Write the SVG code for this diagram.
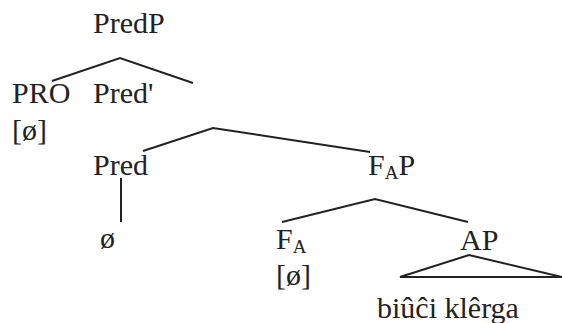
<svg xmlns="http://www.w3.org/2000/svg" width="562" height="323" viewBox="0 0 562 323">
<style>
text{font-family:"Liberation Serif","Times New Roman",serif;font-size:30px;fill:#222}
.sub{font-size:19px}
.e line,.e polyline,.e polygon{stroke:#222;stroke-width:2;fill:none}
</style>
<rect width="562" height="323" fill="#fff"/>
<g id="n-predp"><text x="93" y="33">PredP</text></g>
<g id="n-pro"><text x="12" y="103">PRO</text><text x="12" y="140">[ø]</text></g>
<g id="n-predbar"><text x="93" y="103">Pred'</text></g>
<g id="n-pred"><text x="93" y="175">Pred</text></g>
<g id="n-null"><text x="100" y="248">ø</text></g>
<g id="n-fap"><text x="368" y="175">F<tspan class="sub" dy="4">A</tspan><tspan dy="-4">P</tspan></text></g>
<g id="n-fa"><text x="276" y="249">F<tspan class="sub" dy="4">A</tspan></text><text x="276" y="285">[ø]</text></g>
<g id="n-ap"><text x="460" y="250">AP</text></g>
<g id="n-terminal"><text x="377" y="318">biûĉi klêrga</text></g>
<g class="e" id="connectors">
<polyline points="52,81 120,58 193,83"/>
<polyline points="143,151 213,128 370,152"/>
<line x1="121" y1="178" x2="121" y2="222"/>
<polyline points="282,222 375,199 468,222"/>
<polygon points="400,277 469,255 562,277"/>
</g>
</svg>
